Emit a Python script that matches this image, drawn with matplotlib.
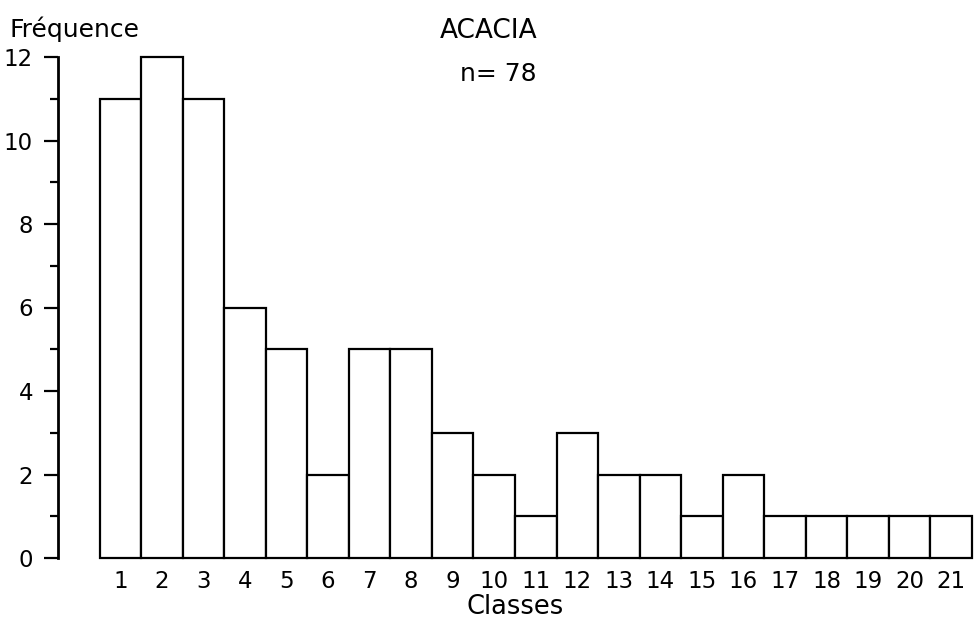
import matplotlib
matplotlib.use("Agg")
import matplotlib.pyplot as plt
from matplotlib.ticker import MultipleLocator

# histogram data
classes = list(range(1, 22))
frequence = [11, 12, 11, 6, 5, 2, 5, 5, 3, 2, 1, 3, 2, 2, 1, 2, 1, 1, 1, 1, 1]
y_ticks = [0, 2, 4, 6, 8, 10, 12]

font = ["DejaVu Sans"]

fig = plt.figure(figsize=(9.74, 6.23), dpi=100)
ax = fig.add_axes([58 / 974, 65 / 623, 916 / 974, 501 / 623])

ax.bar(classes, frequence, width=1.0, color="white", edgecolor="black",
       linewidth=1.6, clip_on=False)

ax.set_xlim(-0.5, 21.55)
ax.set_ylim(0, 12)

ax.spines["top"].set_visible(False)
ax.spines["right"].set_visible(False)
ax.spines["bottom"].set_visible(False)
ax.spines["left"].set_linewidth(2.0)

ax.set_xticks(classes)
ax.set_xticklabels([str(c) for c in classes], family=font, fontsize=16.5)
ax.tick_params(axis="x", length=0, pad=9)

ax.set_yticks(y_ticks)
ax.set_yticklabels([str(v) for v in y_ticks], family=font, fontsize=16.5)
ax.yaxis.set_minor_locator(MultipleLocator(1))
ax.tick_params(axis="y", which="major", length=10, width=1.6, pad=8)
ax.tick_params(axis="y", which="minor", length=6, width=1.6)

fig.text(10 / 974, 1 - 37 / 623, "Fréquence", family=font, fontsize=18,
         ha="left", va="baseline")
fig.text(537 / 974, 1 - 38 / 623, "ACACIA", family=font, fontsize=19,
         ha="right", va="baseline")
fig.text(537 / 974, 1 - 81 / 623, "n= 78", family=font, fontsize=18,
         ha="right", va="baseline")
fig.text(515 / 974, 1 - 614 / 623, "Classes", family=font, fontsize=18.5,
         ha="center", va="baseline")

fig.savefig("out.png", dpi=100)
